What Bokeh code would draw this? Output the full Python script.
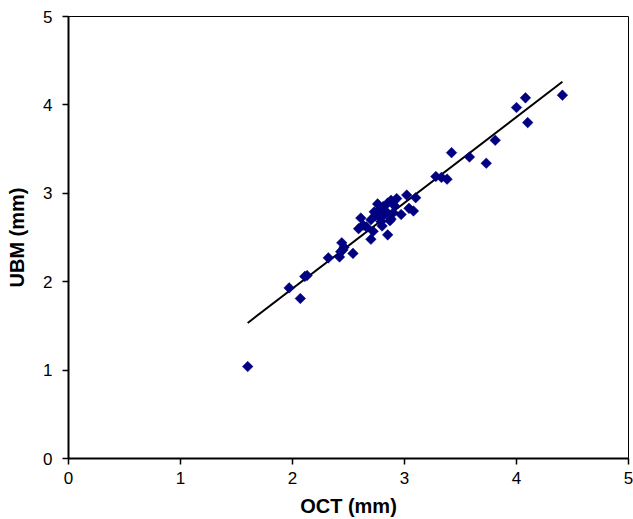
import numpy as np
from bokeh.plotting import figure
from bokeh.models import ColumnDataSource, FixedTicker, Range1d
from bokeh.embed import file_html
from bokeh.resources import INLINE

# OCT (mm) vs UBM (mm) measurements
oct_mm = [1.60, 1.97, 2.07, 2.11, 2.13, 2.32, 2.42, 2.44, 2.46, 2.43, 2.45, 2.54,
          2.59, 2.61, 2.63, 2.66, 2.70, 2.72, 2.70, 2.73, 2.74, 2.76, 2.77, 2.78,
          2.80, 2.79, 2.82, 2.81, 2.83, 2.85, 2.87, 2.85, 2.88, 2.90, 2.88, 2.93,
          2.91, 2.97, 3.02, 3.04, 3.08, 3.10, 3.28, 3.33, 3.38, 3.42, 3.58, 3.73,
          3.81, 4.00, 4.08, 4.10, 4.41]
ubm_mm = [1.04, 1.93, 1.81, 2.06, 2.07, 2.27, 2.28, 2.44, 2.39, 2.34, 2.36, 2.32,
          2.60, 2.72, 2.64, 2.62, 2.48, 2.57, 2.70, 2.79, 2.75, 2.88, 2.74, 2.82,
          2.63, 2.68, 2.76, 2.85, 2.80, 2.53, 2.69, 2.89, 2.92, 2.78, 2.71, 2.94,
          2.86, 2.76, 2.98, 2.83, 2.80, 2.95, 3.19, 3.18, 3.16, 3.46, 3.41, 3.34,
          3.60, 3.97, 4.08, 3.80, 4.11]
axis_ticks = [0, 1, 2, 3, 4, 5]

# linear trend line computed from the data
slope, intercept = np.polyfit(oct_mm, ubm_mm, 1)
trend_x = [min(oct_mm), max(oct_mm)]
trend_y = [slope * x + intercept for x in trend_x]

FONT = "Liberation Sans"

p = figure(width=633, height=519, output_backend="svg", toolbar_location=None,
           x_range=Range1d(0, 5), y_range=Range1d(0, 5),
           min_border_left=68, min_border_right=5, min_border_top=16,
           min_border_bottom=61)

p.line(trend_x, trend_y, line_color="black", line_width=2)
src = ColumnDataSource(dict(x=oct_mm, y=ubm_mm))
p.scatter("x", "y", source=src, marker="square", angle=np.pi / 4, size=7.5,
          fill_color="#000080", line_color="#000080", line_width=0.5)

p.grid.visible = False
p.outline_line_color = "black"
p.outline_line_width = 1
p.background_fill_color = "white"
p.border_fill_color = "white"

for ax in (p.xaxis[0], p.yaxis[0]):
    ax.ticker = FixedTicker(ticks=axis_ticks)
    ax.minor_tick_line_color = None
    ax.major_tick_in = 0
    ax.major_tick_out = 6
    ax.major_tick_line_width = 1.5
    ax.major_tick_line_color = "black"
    ax.axis_line_width = 2
    ax.axis_line_color = "black"
    ax.major_label_text_font = FONT
    ax.major_label_text_font_size = "17px"
    ax.major_label_text_color = "black"
    ax.axis_label_text_font = FONT
    ax.axis_label_text_font_size = "20px"
    ax.axis_label_text_font_style = "bold"
    ax.axis_label_text_color = "black"

p.xaxis.axis_label = "OCT (mm)"
p.yaxis.axis_label = "UBM (mm)"
p.xaxis.major_label_standoff = 7
p.xaxis.axis_label_standoff = 8
p.yaxis.major_label_standoff = 10
p.yaxis.axis_label_standoff = 12

open("out.html", "w").write(file_html(p, INLINE))
